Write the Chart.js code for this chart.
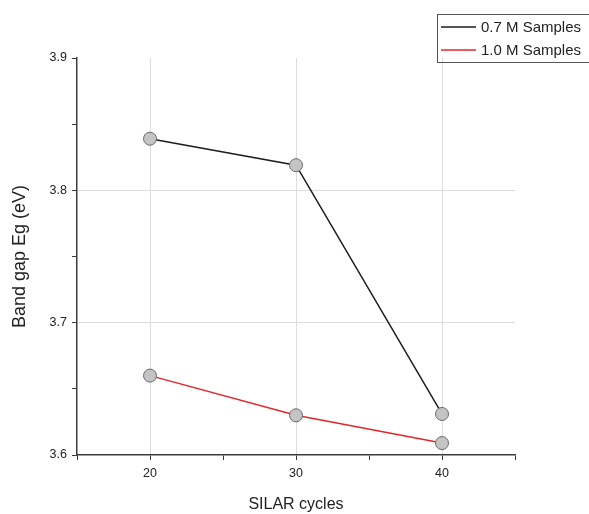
<!DOCTYPE html>
<html>
<head>
<meta charset="utf-8">
<script src="https://cdn.jsdelivr.net/npm/chart.js@4"></script>
<style>
  html, body { margin: 0; padding: 0; background: #fff; }
  #wrap { width: 589px; height: 514px; }
</style>
</head>
<body>
<div id="wrap"><canvas id="bandGap" width="589" height="514"></canvas></div>
<script>
// ------------------ Data ------------------
const cycles = [20, 30, 40];
const sample07 = [3.839, 3.819, 3.631];
const sample10 = [3.660, 3.630, 3.609];
const seriesNames = ["0.7 M Samples", "1.0 M Samples"];
const majorX = [20, 30, 40];
const majorY = [3.6, 3.7, 3.8, 3.9];

const toPoints = (xs, ys) => xs.map((x, i) => ({ x: x, y: ys[i] }));
const isMajor = (v, list) => list.some(m => Math.abs(m - v) < 1e-6);
const FONT = "'Liberation Sans', Arial, sans-serif";

// boxed legend in the top right corner, like the Origin plot
const boxLegend = {
  id: "boxLegend",
  afterDraw(chart) {
    const ctx = chart.ctx;
    ctx.save();
    ctx.strokeStyle = "#555";
    ctx.lineWidth = 1;
    ctx.strokeRect(437.5, 14.5, 160, 48);
    ctx.font = "15px " + FONT;
    ctx.textBaseline = "middle";
    chart.data.datasets.forEach((ds, i) => {
      const y = 27 + i * 23;
      ctx.strokeStyle = ds.borderColor;
      ctx.lineWidth = 1.5;
      ctx.beginPath();
      ctx.moveTo(441, y);
      ctx.lineTo(476, y);
      ctx.stroke();
      ctx.fillStyle = "#222";
      ctx.fillText(ds.label, 481, y + 1);
    });
    ctx.restore();
  }
};

const pointStyle = {
  pointRadius: 6.5,
  pointHoverRadius: 6.5,
  pointBackgroundColor: "#c4c4c4",
  pointBorderColor: "#6a6a6a",
  pointBorderWidth: 1
};

new Chart(document.getElementById("bandGap"), {
  type: "line",
  data: {
    datasets: [
      Object.assign({ label: seriesNames[0], data: toPoints(cycles, sample07), borderColor: "#1e1e1e", borderWidth: 1.5 }, pointStyle),
      Object.assign({ label: seriesNames[1], data: toPoints(cycles, sample10), borderColor: "#e3262a", borderWidth: 1.5 }, pointStyle)
    ]
  },
  options: {
    responsive: false,
    animation: false,
    layout: { padding: { left: 0, right: 74, top: 58, bottom: 0 } },
    plugins: { legend: { display: false }, tooltip: { enabled: false } },
    scales: {
      x: {
        type: "linear",
        min: 15,
        max: 45,
        afterFit: s => { s.height = 59; },
        border: { color: "#3c3c3c", width: 1.5 },
        grid: {
          color: c => (isMajor(c.tick.value, majorX) ? "#dddddd" : "rgba(0,0,0,0)"),
          tickColor: "#3c3c3c",
          tickLength: 5,
          lineWidth: 1
        },
        ticks: {
          stepSize: 5,
          autoSkip: false,
          maxRotation: 0,
          padding: 6,
          color: "#222",
          font: { family: FONT, size: 12.5 },
          callback: v => (isMajor(v, majorX) ? String(v) : "")
        },
        title: {
          display: true,
          text: "SILAR cycles",
          color: "#222",
          font: { family: FONT, size: 16 },
          padding: { top: 0, bottom: 0 }
        }
      },
      y: {
        min: 3.6,
        max: 3.9,
        afterFit: s => { s.width = 77; },
        border: { color: "#3c3c3c", width: 1.5 },
        grid: {
          color: c => (isMajor(c.tick.value, [3.7, 3.8]) ? "#dddddd" : "rgba(0,0,0,0)"),
          tickColor: "#3c3c3c",
          tickLength: 5,
          lineWidth: 1
        },
        ticks: {
          stepSize: 0.05,
          autoSkip: false,
          padding: 5,
          color: "#222",
          font: { family: FONT, size: 12.5 },
          callback: v => (isMajor(v, majorY) ? v.toFixed(1) : "")
        },
        title: {
          display: true,
          text: "Band gap Eg (eV)",
          color: "#222",
          font: { family: FONT, size: 18 },
          padding: { top: 9, bottom: 0 }
        }
      }
    }
  },
  plugins: [boxLegend]
});
</script>
</body>
</html>
